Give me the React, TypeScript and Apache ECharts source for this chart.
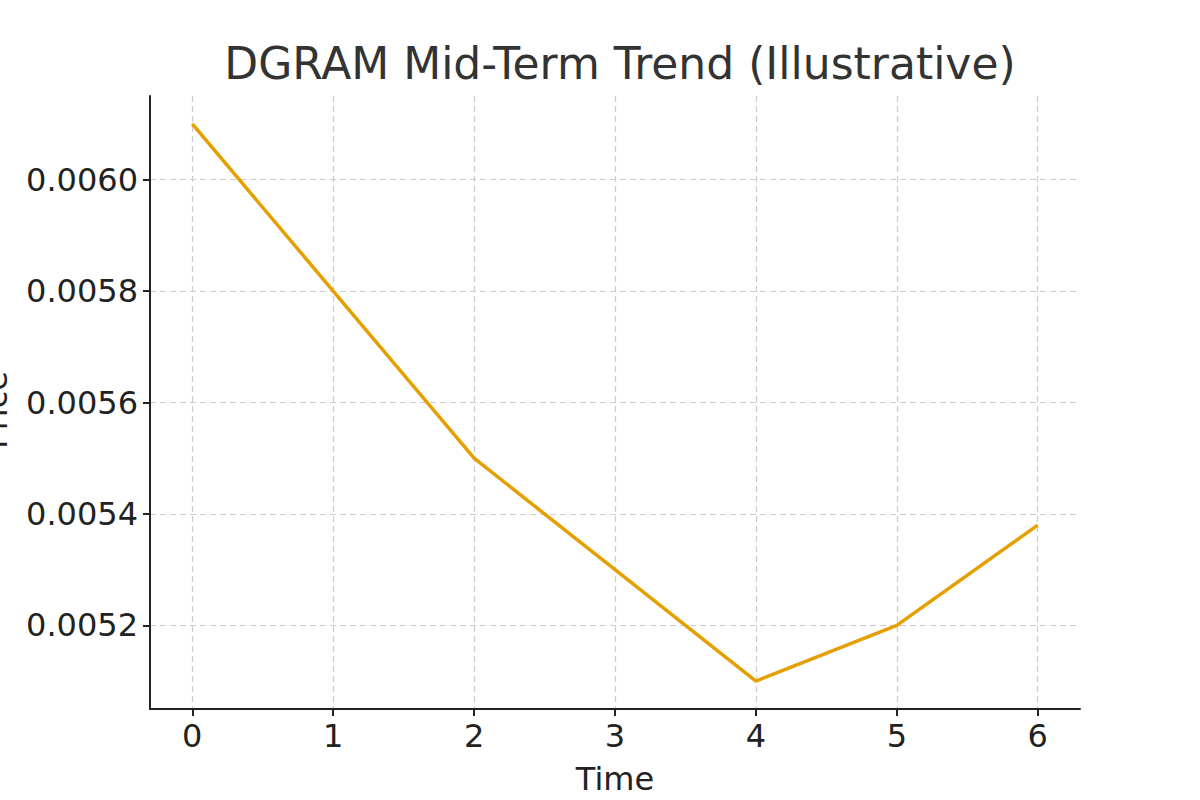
import React, { useEffect, useRef } from "react";
import * as echarts from "echarts";

const timeSteps = [0, 1, 2, 3, 4, 5, 6];
const prices = [0.0061, 0.0058, 0.0055, 0.0053, 0.0051, 0.0052, 0.00538];
const xTicks = [0, 1, 2, 3, 4, 5, 6];
const yTicks = [0.0052, 0.0054, 0.0056, 0.0058, 0.006];

export default function App() {
  const ref = useRef<HTMLDivElement>(null);
  useEffect(() => {
    if (!ref.current) return;
    const chart = echarts.init(ref.current, null, { renderer: "svg" });
    const font = "DejaVu Sans";
    chart.setOption({
      animation: false,
      backgroundColor: "#ffffff",
      title: {
        text: "DGRAM Mid-Term Trend (Illustrative)",
        left: 615,
        textAlign: "center",
        top: 36,
        textStyle: { fontFamily: font, fontSize: 44, fontWeight: "normal", color: "#333333" },
      },
      grid: { left: 150, right: 120, top: 96, bottom: 88 },
      xAxis: {
        type: "value",
        min: -0.3,
        max: 6.3,
        name: "Time",
        nameLocation: "middle",
        nameGap: 54,
        nameTextStyle: { fontFamily: font, fontSize: 32, color: "#222222" },
        axisLine: { show: true, onZero: false, lineStyle: { color: "#222222", width: 2 } },
        axisTick: { show: true, length: 7, customValues: xTicks, lineStyle: { color: "#222222", width: 2 } },
        axisLabel: {
          customValues: xTicks,
          margin: 11,
          fontFamily: font,
          fontSize: 32,
          color: "#222222",
          formatter: (v: number) => String(v),
        },
        splitLine: { show: true, lineStyle: { color: "#cccccc", type: [6, 4], width: 1.2 } },
      },
      yAxis: {
        type: "value",
        min: 0.00505,
        max: 0.00615,
        axisLine: { show: true, onZero: false, lineStyle: { color: "#222222", width: 2 } },
        axisTick: { show: true, length: 7, customValues: yTicks, lineStyle: { color: "#222222", width: 2 } },
        axisLabel: {
          customValues: yTicks,
          margin: 12,
          fontFamily: font,
          fontSize: 32,
          color: "#222222",
          formatter: (v: number) => v.toFixed(4),
        },
        splitLine: { show: true, lineStyle: { color: "#cccccc", type: [6, 4], width: 1.2 } },
      },
      graphic: [
        {
          type: "text",
          x: -4,
          y: 410,
          rotation: Math.PI / 2,
          style: {
            text: "Price",
            fontFamily: font,
            fontSize: 32,
            fill: "#222222",
            textAlign: "center",
            textVerticalAlign: "middle",
          },
        },
      ],
      series: [
        {
          type: "line",
          data: timeSteps.map((t, i) => [t, prices[i]]),
          showSymbol: false,
          symbol: "none",
          lineStyle: { color: "#E69F00", width: 3.5 },
          itemStyle: { color: "#E69F00" },
        },
      ],
    });
    return () => chart.dispose();
  }, []);
  return (
    <div
      ref={ref}
      style={{ position: "fixed", left: 0, top: 0, width: 1200, height: 800 }}
    />
  );
}
